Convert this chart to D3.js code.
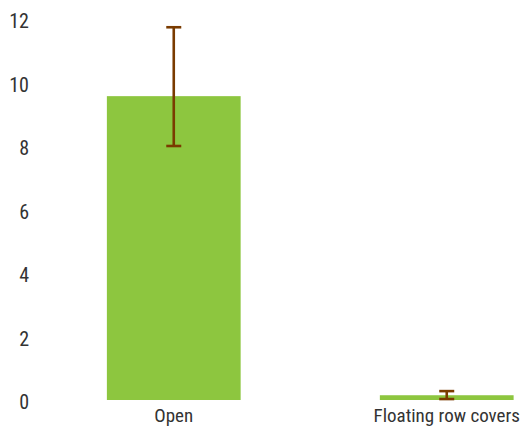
<!DOCTYPE html>
<html><head><meta charset="utf-8">
<script src="https://cdn.jsdelivr.net/npm/d3@7"></script>
<style>
html,body{margin:0;padding:0;background:#fff;}
text{font-family:"Liberation Sans Narrow","Arial Narrow","Roboto Condensed",sans-serif;fill:#333;}
</style></head>
<body>
<svg id="chart" width="529" height="428"></svg>
<script>
const categories = ["Open", "Floating row covers"];
const values = [9.57, 0.15];
const errLow = [8.0, 0.03];
const errHigh = [11.74, 0.28];
const yTicks = [0, 2, 4, 6, 8, 10, 12];

const svg = d3.select("#chart");
const y = d3.scaleLinear().domain([0, 12]).range([400, 19]);
const x = d3.scaleBand().domain(categories).range([40, 580.5]).paddingInner(0.51).paddingOuter(0.245);

// y labels
svg.append("g").selectAll("text").data(yTicks).join("text")
  .attr("x", 29).attr("y", d => y(d) + 2)
  .attr("text-anchor", "end").attr("dominant-baseline", "central")
  .style("font-size", "20px").text(d => d);

// bars
svg.append("g").selectAll("rect").data(categories).join("rect")
  .attr("x", d => x(d)).attr("width", x.bandwidth())
  .attr("y", (d, i) => y(values[i])).attr("height", (d, i) => y(0) - y(values[i]))
  .attr("fill", "#8dc63f");

// error bars
const eg = svg.append("g").attr("stroke", "#7a3b00").attr("stroke-width", 2.6);
categories.forEach((c, i) => {
  const cx = x(c) + x.bandwidth() / 2;
  eg.append("line").attr("x1", cx).attr("x2", cx).attr("y1", y(errLow[i])).attr("y2", y(errHigh[i]));
  eg.append("line").attr("x1", cx - 7.5).attr("x2", cx + 7.5).attr("y1", y(errLow[i])).attr("y2", y(errLow[i]));
  eg.append("line").attr("x1", cx - 7.5).attr("x2", cx + 7.5).attr("y1", y(errHigh[i])).attr("y2", y(errHigh[i]));
});

// x labels
svg.append("g").selectAll("text").data(categories).join("text")
  .attr("x", d => x(d) + x.bandwidth() / 2).attr("y", 422)
  .attr("text-anchor", "middle")
  .style("font-size", "19px").text(d => d);
</script>
</body></html>
